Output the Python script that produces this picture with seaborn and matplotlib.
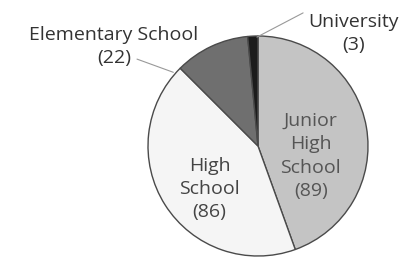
import matplotlib
matplotlib.use('Agg')
import matplotlib.pyplot as plt
import seaborn as sns

categories = ['Junior High School', 'High School', 'Elementary School', 'University']
counts = [89, 86, 22, 3]
colors = ['#c4c4c4', '#f5f5f5', '#6f6f6f', '#1c1c1c']

sns.set_theme(style='white')
plt.rcParams['font.family'] = ['Open Sans', 'DejaVu Sans']

fig = plt.figure(figsize=(4.02, 2.57), dpi=100)
# pie centre at about (258, 146) px, radius about 110 px
ax = fig.add_axes([148 / 402, 1 / 257, 220 / 402, 220 / 257])
ax.pie(counts, colors=colors, startangle=90, counterclock=False,
       wedgeprops={'edgecolor': '#4a4a4a', 'linewidth': 1.0})
ax.set_xlim(-1, 1)
ax.set_ylim(-1, 1)
ax.set_aspect('equal')
ax.axis('off')

txt = dict(fontsize=14, linespacing=1.38, ha='center', va='center')
ax.text(0.48, -0.09, 'Junior\nHigh\nSchool\n(%d)' % counts[0], color='#555555', **txt)
ax.text(-0.44, -0.39, 'High\nSchool\n(%d)' % counts[1], color='#444444', **txt)

ax.text(-1.31, 0.905, 'Elementary School\n(%d)' % counts[2], color='#333333', **txt)
ax.plot([-1.10, -0.77], [0.79, 0.67], color='#999999', lw=0.8, clip_on=False)

ax.text(0.87, 1.02, 'University\n(%d)' % counts[3], color='#333333', **txt)
ax.plot([0.41, -0.01], [1.21, 0.99], color='#999999', lw=0.8, clip_on=False)

fig.savefig('out.png', dpi=100)
